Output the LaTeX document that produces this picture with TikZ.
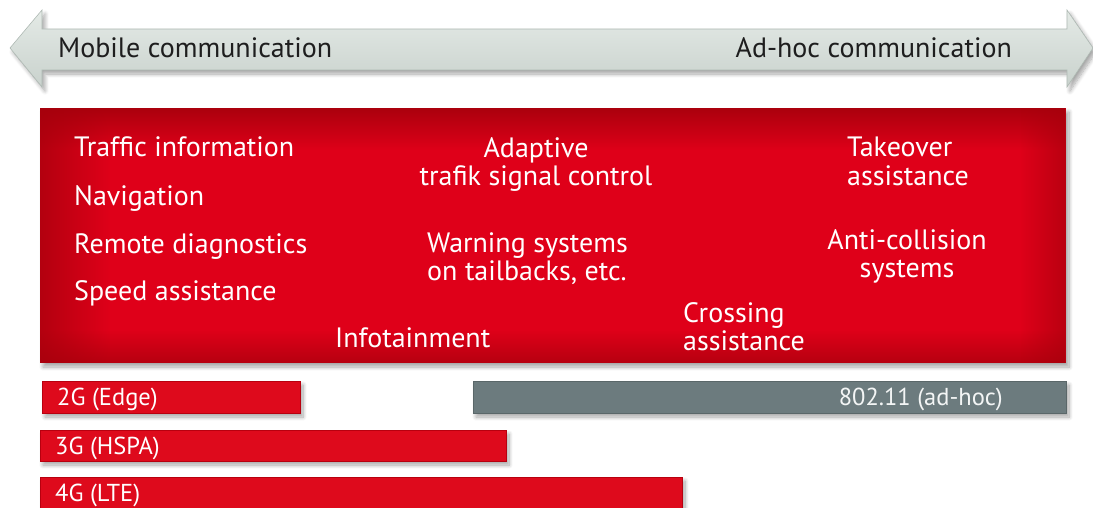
\documentclass[tikz,border=0pt]{standalone}
\usepackage{fontspec}
\setmainfont{PT Sans}
\usetikzlibrary{shadows.blur,fadings}
\definecolor{arrowfill}{HTML}{E4EAE6}
\definecolor{arrowlow}{HTML}{C9D2CD}
\definecolor{arrowedge}{HTML}{AEB9B3}
\definecolor{boxred}{HTML}{DF0019}
\definecolor{boxdark}{HTML}{A5000C}
\definecolor{barred}{HTML}{DE0A1C}
\definecolor{baredge}{HTML}{B8000F}
\definecolor{bargray}{HTML}{6C7B7E}
\definecolor{grayedge}{HTML}{5A6769}
\definecolor{txtdark}{HTML}{1E1E1E}
% edge fadings: opaque at the named side, clear towards the panel centre
\tikzfading[name=fromtop, top color=transparent!10, bottom color=transparent!100]
\tikzfading[name=frombottom, top color=transparent!100, bottom color=transparent!30]
\tikzfading[name=fromleft, left color=transparent!25, right color=transparent!100]
\tikzfading[name=fromright, left color=transparent!100, right color=transparent!35]
\begin{document}
\begin{tikzpicture}[x=1pt,y=-1pt,
  softshadow/.style={blur shadow={shadow xshift=3pt,shadow yshift=-4pt,shadow blur steps=8,shadow blur radius=4pt,shadow opacity=35}},
  headtext/.style={font=\fontsize{28}{30}\selectfont,text=txtdark,inner sep=0pt},
  apptext/.style={font=\fontsize{28}{28.5}\selectfont,text=white,inner sep=0pt},
  bartext/.style={font=\fontsize{24.5}{26}\selectfont,inner sep=0pt},
  redbar/.style={fill=barred,draw=baredge,line width=0.8pt,softshadow},
  graybar/.style={fill=bargray,draw=grayedge,line width=0.8pt,softshadow},
]
\useasboundingbox (0,0) rectangle (1093,508);

% double-headed scale arrow
\path[top color=arrowfill,bottom color=arrowlow,draw=arrowedge,line width=0.6pt,softshadow]
  (10,48) -- (42,10) -- (42,29) -- (1067,29) -- (1067,10) -- (1093,48)
  -- (1067,87) -- (1067,70) -- (42,70) -- (42,87) -- cycle;
\node[headtext,anchor=base west] (mobile) at (58,58) {Mobile communication};
\node[headtext,anchor=base east] (adhoc) at (1012,58) {Ad-hoc communication};

% application panel with darkened rim
\path[softshadow,fill=boxred] (40,108) rectangle (1066,363);
\fill[boxdark,path fading=fromtop] (40,108) rectangle (1066,150);
\fill[boxdark,path fading=frombottom] (40,330) rectangle (1066,363);
\fill[boxdark,path fading=fromleft] (40,108) rectangle (110,363);
\fill[boxdark,path fading=fromright] (1020,108) rectangle (1066,363);

\node[apptext,anchor=base west] (traffic) at (74,157) {Traffic information};
\node[apptext,anchor=base west] (nav) at (74,205) {Navigation};
\node[apptext,anchor=base west] (remote) at (74,253) {Remote diagnostics};
\node[apptext,anchor=base west] (speed) at (74,300) {Speed assistance};
\node[apptext,anchor=base west] (info) at (335,347) {Infotainment};
\node[apptext,align=center,anchor=north] (adaptive) at (536,137) {Adaptive\\trafik signal control};
\node[apptext,align=left,anchor=north west] (warning) at (427,232) {Warning systems\\on tailbacks, etc.};
\node[apptext,align=left,anchor=north west] (crossing) at (683,302) {Crossing\\assistance};
\node[apptext,align=left,anchor=north west] (takeover) at (847,137) {Takeover\\assistance};
\node[apptext,align=center,anchor=north] (anticol) at (907,229) {Anti-collision\\systems};

% transmission technologies
\path[redbar] (42,381) rectangle (300,413);
\node[bartext,text=white,anchor=base west] (g2) at (57,405) {2G (Edge)};
\path[redbar] (40,430) rectangle (506,461);
\node[bartext,text=white,anchor=base west] (g3) at (55,454) {3G (HSPA)};
\path[redbar] (40,477) rectangle (682,515);
\node[bartext,text=white,anchor=base west] (g4) at (55,501) {4G (LTE)};
\path[graybar] (473,381) rectangle (1066,413);
\node[bartext,text=white!92!bargray,anchor=base east] (wifi) at (1003,405) {802.11 (ad-hoc)};
\end{tikzpicture}
\end{document}
